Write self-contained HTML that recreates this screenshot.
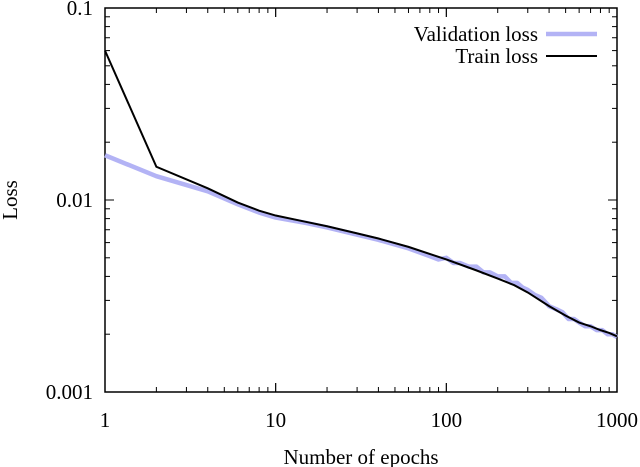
<!DOCTYPE html>
<html><head><meta charset="utf-8"><style>
body{margin:0;background:#fff}
svg{display:block;font-family:"Liberation Serif",serif}
</style></head><body>
<svg id="chart" width="640" height="467" xmlns="http://www.w3.org/2000/svg">
<g id="axes"></g><g id="series"></g><g id="legend"></g>
</svg>
<script>
const trainEpochs=[1,2,4,6,8,10,15,20,30,40,60,100,150,200,250,300,400,500,600,700,800,900,1000];
const trainLoss=[0.06,0.0149,0.0115,0.0097,0.0088,0.0083,0.0077,0.0073,0.0067,0.0063,0.0057,0.0049,0.0043,0.0039,0.0036,0.0033,0.0028,0.0025,0.0023,0.0022,0.0021,0.00203,0.00195];
const valEpochs=[1,2,4,6,8,10,15,20,30,40,60,80,90,100,110,120,135,150,165,180,200,220,240,260,280,300,330,360,400,440,480,520,560,600,650,700,760,820,880,940,1000];
const valLoss=[0.0171,0.0133,0.0111,0.0095,0.0086,0.0081,0.0076,0.0072,0.0066,0.0062,0.0056,0.0051,0.0049,0.0050,0.0047,0.0047,0.0045,0.0045,0.0042,0.0042,0.0040,0.0040,0.0037,0.0037,0.0035,0.0034,0.0032,0.0031,0.0028,0.0027,0.0026,0.0024,0.0024,0.0023,0.0022,0.0022,0.0021,0.0021,0.0020,0.0020,0.00193];
const xTicks=[1,10,100,1000];
const xTickLabels=["1","10","100","1000"];
const yTicks=[0.001,0.01,0.1];
const yTickLabels=["0.001","0.01","0.1"];
const L=105,R=617,T=8,B=392;
const xs=v=>L+(Math.log10(v)-0)/3*(R-L);
const ys=v=>B-(Math.log10(v)+3)/2*(B-T);
const NS="http://www.w3.org/2000/svg";
function mk(tag,attrs,parent,text){const e=document.createElementNS(NS,tag);for(const k in attrs)e.setAttribute(k,attrs[k]);if(text!==undefined)e.textContent=text;parent.appendChild(e);return e;}
const axes=document.getElementById('axes');
const frame=mk('rect',{x:L,y:T,width:R-L,height:B-T,fill:'none',stroke:'#000','stroke-width':1.5},axes);


for(let d=0;d<3;d++){for(let m=1;m<=10;m++){const v=Math.pow(10,d)*m;const x=xs(v);const len=(m===1||m===10)?9:5;
mk('line',{x1:x,x2:x,y1:B,y2:B-len,stroke:'#000','stroke-width':1},axes);mk('line',{x1:x,x2:x,y1:T,y2:T+len,stroke:'#000','stroke-width':1},axes);}}
for(let d=0;d<2;d++){for(let m=1;m<=10;m++){const v=Math.pow(10,d-3)*m;const y=ys(v);const len=(m===1||m===10)?9:5;
mk('line',{x1:L,x2:L+len,y1:y,y2:y,stroke:'#000','stroke-width':1},axes);mk('line',{x1:R,x2:R-len,y1:y,y2:y,stroke:'#000','stroke-width':1},axes);}}
xTicks.forEach((v,i)=>{const t=mk('text',{x:xs(v),y:B+35,'text-anchor':'middle','font-size':21},axes,xTickLabels[i]);

});
yTicks.forEach((v,i)=>{const t=mk('text',{x:L-12,y:ys(v)+7,'text-anchor':'end','font-size':21},axes,yTickLabels[i]);

});
const xt=mk('text',{x:361,y:464,'text-anchor':'middle','font-size':21},axes,'Number of epochs');


const yt=mk('text',{x:0,y:0,'text-anchor':'middle','font-size':21,transform:'translate(17,200) rotate(-90)'},axes,'Loss');


const ser=document.getElementById('series');
const vp=mk('polyline',{points:valEpochs.map((e,i)=>xs(e)+','+ys(valLoss[i])).join(' '),fill:'none',stroke:'#b3b3f5','stroke-width':4.5,'stroke-linejoin':'round'},ser);


const tp=mk('polyline',{points:trainEpochs.map((e,i)=>xs(e)+','+ys(trainLoss[i])).join(' '),fill:'none',stroke:'#000','stroke-width':2},ser);


const lg=document.getElementById('legend');


const l1=mk('text',{x:538,y:41,'text-anchor':'end','font-size':21},lg,'Validation loss');


const s1=mk('line',{x1:546,x2:597,y1:34,y2:34,stroke:'#b3b3f5','stroke-width':4.5},lg);


const l2=mk('text',{x:538,y:63,'text-anchor':'end','font-size':21},lg,'Train loss');


const s2=mk('line',{x1:546,x2:597,y1:56,y2:56,stroke:'#000','stroke-width':2},lg);


</script>
</body></html>
